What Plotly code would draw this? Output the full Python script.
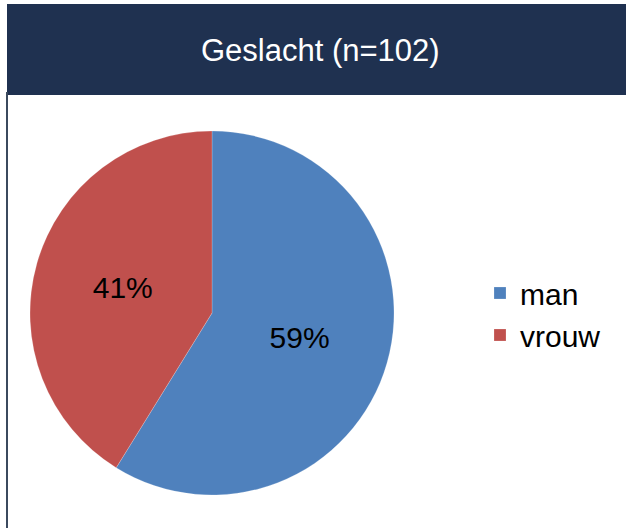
import plotly.graph_objects as go

categories = ["man", "vrouw"]
values = [60, 42]
colors = ["#4F81BD", "#C0504D"]
title_text = "Geslacht (n=102)"

W, H = 626, 528

fig = go.Figure()
fig.add_trace(go.Pie(
    labels=categories,
    values=values,
    marker=dict(colors=colors, line=dict(color="rgba(255,255,255,0.4)", width=0.5)),
    sort=False,
    direction="clockwise",
    rotation=0,
    texttemplate="%{percent:.0%}",
    textposition="inside",
    insidetextorientation="horizontal",
    textfont=dict(family="Liberation Sans, Arial", size=30, color="black"),
    domain=dict(x=[29 / W, 395 / W], y=[(H - 495) / H, (H - 131) / H]),
    hoverinfo="label+percent",
))

fig.update_layout(
    width=W, height=H,
    margin=dict(l=0, r=0, t=0, b=0),
    paper_bgcolor="white",
    plot_bgcolor="white",
    showlegend=True,
    legend=dict(
        x=480 / W, y=(H - 267) / H, xanchor="left", yanchor="top",
        font=dict(family="Liberation Sans, Arial", size=30, color="black"),
        tracegroupgap=0, itemwidth=30,
        bgcolor="rgba(0,0,0,0)",
    ),
    shapes=[
        dict(type="rect", xref="paper", yref="paper",
             x0=7 / W, x1=1, y0=(H - 95) / H, y1=(H - 4) / H,
             fillcolor="#1F3150", line=dict(width=0), layer="below"),
        dict(type="line", xref="paper", yref="paper",
             x0=7 / W, x1=7 / W, y0=0, y1=(H - 92) / H,
             line=dict(color="#3B4A5E", width=2)),
    ],
    annotations=[
        dict(text=title_text, xref="paper", yref="paper",
             x=320 / W, y=(H - 50) / H, xanchor="center", yanchor="middle",
             showarrow=False,
             font=dict(family="Liberation Sans, Arial", size=31, color="white")),
    ],
)

fig.write_html(
    "out.html",
    config={"displayModeBar": False},
    post_script="document.body.style.margin='0';document.body.style.overflow='hidden';",
)
